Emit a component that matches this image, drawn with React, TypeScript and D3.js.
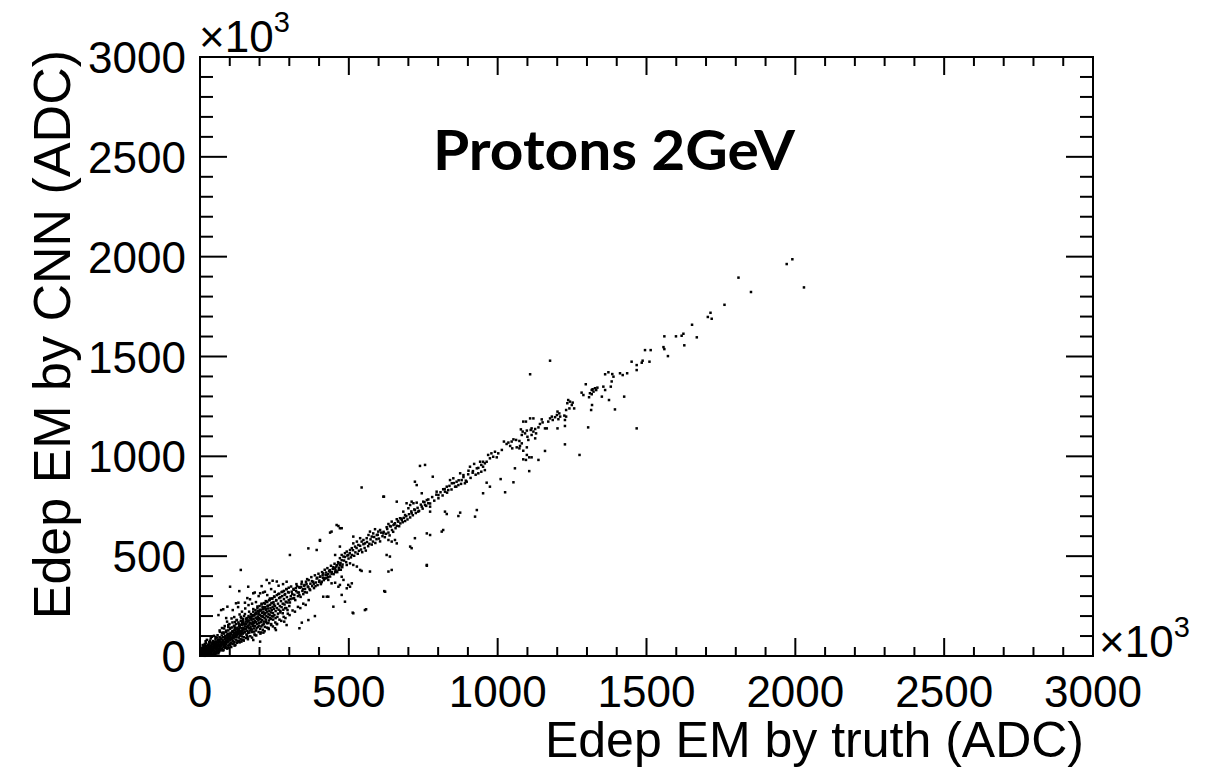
import React from 'react';
import * as d3 from 'd3';

// axis values (units of 10^3 ADC)
const xTickValues = [0, 500, 1000, 1500, 2000, 2500, 3000];
const yTickValues = [0, 500, 1000, 1500, 2000, 2500, 3000];
const title = 'Protons 2GeV';
const xTitle = 'Edep EM by truth (ADC)';
const yTitle = 'Edep EM by CNN (ADC)';

// [truth, CNN] pairs, units of 10^3 ADC
const coreA: [number, number][] = [
  [2, 4], [4, 11], [6, 2], [7, 19], [9, 7], [11, 14], [12, 27], [14, 5], [15, 36], [17, 21], [18, 9], [19, 48],
  [21, 30], [22, 16], [24, 3], [25, 41], [26, 24], [27, 57], [29, 12], [30, 33], [31, 69], [32, 45], [34, 19],
  [35, 28], [36, 52], [37, 8], [38, 39], [39, 63], [41, 22], [42, 47], [43, 31], [44, 75], [46, 14], [47, 55],
  [48, 37], [49, 26], [50, 61], [51, 43], [52, 84], [53, 18], [54, 50], [55, 33], [56, 68], [57, 40], [58, 92],
  [59, 25], [60, 57], [3, 22], [5, 31], [8, 42], [10, 3], [13, 50], [16, 1], [20, 66], [23, 8], [28, 2], [33, 5],
  [40, 4], [45, 9], [1, 14], [4, 38], [6, 27], [9, 55], [12, 46], [16, 60], [19, 74], [23, 81], [26, 12], [29, 40],
  [33, 77], [36, 88], [40, 96], [44, 58], [47, 101], [51, 6], [55, 12], [58, 21], [62, 13],
  [3, 9], [5, 17], [7, 33], [10, 22], [11, 39], [13, 11], [14, 29], [17, 44], [18, 35], [20, 4], [21, 52], [22, 40],
  [24, 27], [25, 15], [27, 33], [28, 49], [30, 21], [31, 10], [32, 60], [34, 38], [35, 71], [37, 48], [38, 16],
  [39, 29], [41, 58], [42, 35], [43, 66], [45, 45], [46, 27], [48, 71], [49, 52], [50, 17], [52, 39], [53, 62],
  [54, 73], [56, 29], [57, 52], [59, 44], [60, 79],
];

const coreB: [number, number][] = [
  [61, 48], [62, 66], [63, 35], [64, 82], [65, 55], [66, 94], [67, 42], [68, 71], [69, 28], [70, 60], [71, 88],
  [72, 50], [73, 103], [74, 67], [75, 38], [76, 79], [77, 57], [78, 95], [79, 45], [80, 70], [81, 112], [82, 62],
  [83, 86], [84, 50], [85, 99], [86, 74], [87, 121], [88, 58], [89, 90], [90, 68], [91, 106], [92, 80], [93, 52],
  [94, 95], [95, 128], [96, 72], [97, 109], [98, 86], [99, 61], [100, 100], [101, 136], [102, 78], [103, 116],
  [104, 92], [105, 66], [106, 108], [107, 85], [108, 143], [109, 98], [110, 75], [111, 122], [112, 104], [113, 88],
  [114, 151], [115, 115], [116, 70], [117, 96], [118, 130], [119, 108], [120, 82], [121, 160], [122, 119],
  [123, 95], [124, 138], [125, 106], [126, 77], [127, 126], [128, 112], [129, 168], [130, 92], [131, 134],
  [132, 116], [133, 101], [134, 146], [135, 124], [136, 84], [137, 176], [138, 110], [139, 139], [140, 121],
  [141, 98], [142, 156], [143, 130], [144, 112], [145, 185], [146, 138], [147, 94], [148, 118], [149, 162],
  [150, 133], [63, 58], [66, 77], [69, 50], [72, 84], [75, 62], [78, 74], [81, 55], [84, 91], [87, 66], [90, 88],
  [93, 73], [96, 99], [99, 83], [102, 112], [105, 90], [108, 120], [111, 96], [114, 128], [117, 103], [120, 135],
  [123, 110], [126, 142], [129, 118], [132, 150], [135, 103], [138, 157], [141, 126], [144, 166], [147, 134],
  [64, 22], [71, 36], [79, 30], [86, 44], [94, 40], [101, 55], [109, 60], [116, 52], [124, 66], [131, 75],
  [139, 72], [146, 80], [66, 128], [74, 140], [83, 150], [91, 172], [99, 160], [106, 188], [115, 195], [124, 180],
  [133, 208], [141, 222], [148, 200], [88, 190], [110, 230], [128, 245], [79, 118], [95, 145], [117, 170],
  [139, 190],
];

const coreC: [number, number][] = [
  [151, 120], [152, 148], [153, 172], [154, 135], [155, 160], [156, 108], [157, 190], [158, 144], [159, 126],
  [160, 168], [161, 152], [162, 116], [163, 200], [164, 140], [165, 178], [166, 157], [167, 128], [168, 192],
  [169, 165], [170, 146], [171, 210], [172, 134], [173, 182], [174, 160], [175, 120], [176, 198], [177, 170],
  [178, 150], [179, 222], [180, 185], [181, 138], [182, 164], [183, 206], [184, 176], [185, 150], [186, 230],
  [187, 192], [188, 128], [189, 170], [190, 212], [191, 185], [192, 160], [193, 240], [194, 198], [195, 145],
  [196, 178], [197, 220], [198, 190], [199, 166], [200, 250], [201, 205], [202, 136], [203, 186], [204, 228],
  [205, 170], [206, 200], [207, 258], [208, 215], [209, 180], [210, 155], [211, 236], [212, 196], [213, 222],
  [214, 172], [215, 265], [216, 208], [217, 190], [218, 146], [219, 245], [220, 215], [221, 182], [222, 230],
  [223, 200], [224, 272], [225, 164], [226, 222], [227, 250], [228, 194], [229, 238], [230, 210], [231, 178],
  [232, 280], [233, 226], [234, 205], [235, 256], [236, 190], [237, 240], [238, 218], [239, 160], [240, 264],
  [241, 230], [242, 200], [243, 288], [244, 246], [245, 215], [246, 182], [247, 270], [248, 236], [249, 258],
  [250, 205], [252, 250], [254, 225], [256, 278], [258, 240], [260, 196], [262, 262], [264, 232], [266, 290],
  [268, 250], [270, 218], [272, 275], [274, 245], [276, 300], [278, 262], [280, 232], [282, 285], [284, 258],
  [286, 310], [288, 272], [290, 240], [292, 295], [294, 268], [296, 320], [298, 280], [300, 250],
  [155, 185], [162, 176], [170, 190], [178, 205], [186, 210], [194, 226], [202, 232], [210, 245], [218, 262],
  [226, 270], [234, 280], [242, 288], [250, 296], [258, 305], [266, 312], [274, 320], [282, 326], [290, 335],
  [298, 342], [158, 102], [166, 118], [174, 132], [182, 122], [190, 140], [198, 152], [206, 148], [214, 160],
  [222, 170], [230, 165], [238, 185], [246, 198], [254, 190], [262, 212], [270, 226], [278, 214], [286, 240],
  [294, 230], [152, 238], [163, 255], [175, 262], [188, 270], [197, 300], [212, 318], [226, 305], [239, 335],
  [251, 322], [264, 352], [279, 360], [291, 372], [159, 290], [184, 318], [207, 350], [233, 365], [160, 95],
  [185, 105], [205, 118], [230, 140], [258, 160], [283, 172],
];

// wider spread of the core
const coreSpread: [number, number][] = [
  [52, 95], [56, 18], [59, 104], [63, 24], [67, 121], [70, 33], [74, 116], [77, 28], [81, 138], [85, 41],
  [88, 127], [91, 37], [95, 155], [98, 52], [102, 141], [105, 45], [109, 168], [113, 63], [116, 150], [119, 55],
  [123, 180], [127, 72], [130, 161], [133, 68], [137, 196], [141, 82], [144, 175], [147, 77], [151, 210],
  [155, 90], [158, 188], [161, 84], [165, 222], [169, 99], [172, 198], [175, 92], [179, 235], [183, 108],
  [186, 212], [189, 103], [193, 248], [197, 120], [200, 226], [203, 112], [207, 262], [211, 131], [214, 238],
  [217, 124], [221, 275], [225, 142], [228, 252], [231, 135], [235, 288], [239, 155], [242, 266], [245, 148],
  [249, 298], [253, 168], [256, 280], [259, 160], [263, 310], [267, 182], [270, 294], [273, 176], [277, 322],
  [281, 196], [284, 306], [287, 190], [291, 335], [295, 212], [298, 318], [301, 205], [306, 348], [311, 228],
  [315, 332], [319, 222], [324, 360], [329, 246], [333, 345], [337, 240], [342, 372], [347, 262], [351, 356],
  [355, 256], [360, 385], [365, 280],
  [22, 25], [26, 35], [31, 24], [35, 49], [39, 27], [44, 64], [48, 46], [53, 59], [57, 42], [62, 73], [66, 51],
  [70, 86], [74, 68], [77, 71], [82, 67], [86, 97], [89, 76], [93, 112], [97, 91], [101, 107], [105, 88],
  [109, 124], [113, 97], [117, 140], [121, 118], [125, 133], [129, 112], [133, 150], [137, 122], [141, 165],
  [145, 142], [149, 158], [153, 136], [157, 176], [161, 149], [165, 194], [169, 166], [173, 184], [177, 160],
  [181, 203], [185, 170], [189, 218], [193, 188], [197, 211], [201, 184], [205, 229], [209, 199], [213, 244],
  [217, 212], [221, 236],
];

const coreD: [number, number][] = [
  [302, 268], [305, 300], [308, 322], [311, 288], [314, 336], [317, 306], [320, 280], [323, 325], [326, 350],
  [329, 300], [332, 318], [335, 342], [338, 296], [341, 360], [344, 326], [347, 310], [350, 352], [353, 336],
  [356, 372], [359, 318], [362, 348], [365, 380], [368, 335], [371, 362], [374, 395], [377, 350], [380, 372],
  [383, 340], [386, 404], [389, 368], [392, 388], [395, 355], [398, 412], [401, 378], [404, 398], [407, 366],
  [410, 420], [413, 392], [416, 380], [419, 432], [422, 405], [425, 390], [428, 440], [431, 410], [434, 425],
  [437, 398], [440, 452], [443, 420], [446, 436], [449, 410], [452, 462], [455, 430], [458, 448], [461, 420],
  [464, 470], [467, 442], [470, 455], [473, 432], [476, 480], [479, 458], [304, 285], [310, 310], [316, 290],
  [322, 340], [328, 318], [334, 305], [340, 345], [346, 335], [352, 320], [358, 360], [364, 345], [370, 330],
  [376, 375], [382, 362], [388, 350], [394, 392], [400, 372], [406, 360], [412, 405], [418, 388], [424, 418],
  [430, 395], [436, 430], [442, 412], [448, 445], [454, 420], [460, 455], [466, 432], [472, 465], [478, 445],
];

const bandE: [number, number][] = [
  [484, 478], [487, 496], [491, 470], [495, 503], [499, 488], [503, 515], [507, 494], [510, 506], [514, 530],
  [518, 502], [522, 519], [526, 541], [530, 512], [534, 527], [538, 552], [541, 533], [545, 520], [549, 560],
  [553, 541], [557, 528], [561, 571], [565, 550], [569, 562], [573, 584], [577, 558], [581, 573], [585, 596],
  [589, 566], [593, 585], [597, 607], [601, 588], [605, 574], [609, 618], [613, 600], [617, 622], [621, 595],
  [625, 612], [629, 636], [633, 618], [637, 604], [641, 649], [645, 631], [649, 622], [653, 660], [657, 640],
  [661, 652], [665, 676], [669, 650], [673, 664], [677, 688], [681, 670], [685, 692], [689, 676], [693, 700],
  [697, 684], [702, 710], [706, 694], [710, 724], [715, 705], [720, 734], [725, 716], [731, 742], [736, 727],
  [742, 758], [748, 738], [754, 770], [760, 752], [767, 784], [773, 764], [780, 796], [787, 778], [794, 808],
  [801, 790], [808, 820], [815, 804], [822, 836], [830, 818], [838, 852], [845, 834], [853, 866], [861, 848],
  [869, 880], [877, 862], [885, 896], [893, 878], [901, 910], [909, 892], [917, 926], [926, 908], [935, 942],
];

const midPoints: [number, number][] = [
  [921, 962], [907, 948], [930, 940], [902, 928], [916, 918], [935, 915], [739, 952], [756, 957],
  [874, 915], [885, 906], [851, 890], [862, 873], [846, 865], [868, 856], [857, 848], [879, 881],
  [896, 873], [890, 865], [840, 881], [829, 848], [834, 831], [823, 823], [817, 835], [782, 898],
  [722, 873], [728, 856], [795, 823], [801, 806], [762, 781], [767, 765], [756, 756], [773, 748],
  [750, 773], [745, 748], [745, 815], [543, 844], [616, 798], [661, 773], [694, 765], [706, 756],
  [717, 765], [711, 773], [728, 768], [700, 740], [722, 731], [733, 723], [711, 715], [683, 723],
  [689, 706], [672, 690], [678, 681], [666, 673], [661, 685], [655, 665], [644, 673], [650, 656],
  [638, 651], [627, 645], [633, 661], [773, 723], [829, 711], [823, 723], [874, 718], [868, 701],
  [930, 731], [924, 698], [817, 631], [812, 623], [762, 614], [773, 606], [722, 590], [706, 548],
  [711, 540], [605, 631], [599, 623], [588, 635], [616, 614], [594, 606], [582, 614], [571, 623],
  [577, 598], [560, 590], [566, 606], [549, 581], [554, 564], [543, 573], [538, 590], [527, 573],
  [532, 556], [521, 548], [515, 564], [510, 540], [504, 531], [493, 523], [498, 506], [487, 515],
  [482, 498], [476, 506], [470, 490], [633, 581], [644, 573], [655, 581], [661, 564], [627, 506],
  [638, 498], [762, 456], [644, 431], [633, 423], [622, 322], [543, 426], [571, 423], [454, 506],
  [470, 548], [454, 439], [459, 423], [437, 423], [426, 406], [414, 414], [403, 397], [420, 389],
  [431, 381], [409, 372], [442, 364], [454, 367], [470, 356], [465, 347], [482, 381], [476, 397],
  [498, 356], [504, 347], [493, 339], [510, 364], [538, 431], [527, 448], [515, 456], [504, 464],
  [493, 456], [476, 448], [465, 464], [414, 297], [431, 297], [476, 306], [403, 581], [442, 623],
  [470, 640], [459, 656], [515, 598],
];

const upperPoints: [number, number][] = [
  [1176, 1479], [1109, 1411], [1450, 1474], [1467, 1457], [1467, 1432], [1372, 1421], [1361, 1411],
  [1385, 1412], [1389, 1399], [1411, 1416], [1420, 1407], [1435, 1416], [1383, 1375], [1380, 1349],
  [1296, 1361], [1319, 1336], [1327, 1341], [1335, 1344], [1331, 1332], [1322, 1324], [1310, 1316],
  [1316, 1332], [1355, 1349], [1361, 1332], [1282, 1319], [1288, 1307], [1307, 1296], [1316, 1311],
  [1350, 1299], [1374, 1282], [1425, 1299], [1237, 1282], [1243, 1274], [1252, 1269], [1234, 1266],
  [1249, 1257], [1257, 1240], [1241, 1240], [1230, 1232], [1317, 1257], [1314, 1232], [1394, 1235],
  [1201, 1224], [1207, 1215], [1199, 1207], [1210, 1199], [1193, 1196], [1204, 1186], [1182, 1199],
  [1176, 1190], [1185, 1182], [1170, 1174], [1148, 1185], [1151, 1170], [1142, 1162], [1137, 1145],
  [1126, 1137], [1114, 1140], [1095, 1174], [1086, 1174], [1109, 1190], [1120, 1190], [1226, 1182],
  [1230, 1199], [1224, 1204], [1159, 1140], [1165, 1140], [1201, 1140], [1226, 1152], [1304, 1145],
  [1467, 1140], [1078, 1135], [1084, 1124], [1098, 1129], [1092, 1115], [1081, 1107], [1100, 1098],
  [1111, 1132], [1120, 1124], [1129, 1115], [1114, 1107], [1103, 1082], [1126, 1090], [1053, 1085],
  [1062, 1082], [1073, 1077], [1047, 1074], [1036, 1069], [1021, 1074], [1030, 1062], [1042, 1052],
  [1049, 1040], [1064, 1045], [1075, 1052], [1081, 1065], [1073, 1040], [1098, 1045], [1086, 1028],
  [1098, 1007], [1106, 995], [1114, 995], [1095, 982], [1086, 985], [1137, 982], [1226, 1060],
  [1159, 1027], [1275, 1007], [1014, 1032], [1002, 1015], [991, 1023], [979, 1015], [968, 1007],
  [985, 998], [974, 990], [997, 995], [963, 973], [957, 965], [951, 973], [945, 957], [941, 973],
  [951, 948], [957, 931], [945, 923], [1058, 940], [1106, 926], [1010, 886], [974, 848], [963, 868],
  [1053, 870], [1025, 820], [951, 815],
];

const tailPoints: [number, number][] = [
  [1971, 1963], [1990, 1987], [2029, 1846], [1809, 1895], [1851, 1823], [1762, 1759], [1715, 1719],
  [1706, 1698], [1719, 1689], [1653, 1659], [1560, 1601], [1599, 1601], [1618, 1604], [1624, 1614],
  [1669, 1596], [1557, 1547], [1560, 1537], [1627, 1556], [1495, 1532], [1514, 1532], [1572, 1502],
  [1487, 1479], [1510, 1474], [1484, 1469],
];

const outlierPoints: [number, number][] = [
  [137, 431], [101, 347], [132, 325], [162, 347], [224, 381], [244, 377], [258, 373], [179, 314],
  [202, 314], [218, 322], [71, 230], [78, 234], [92, 247], [62, 205], [121, 264], [129, 267],
  [168, 284], [151, 267], [302, 506], [364, 539], [392, 531], [403, 577], [465, 651], [476, 640],
  [437, 618], [618, 798], [515, 214], [554, 230], [619, 325], [762, 452], [487, 272], [448, 247],
  [426, 297], [386, 200], [364, 180], [342, 167], [291, 155], [252, 139], [213, 117], [202, 72],
  [179, 80], [558, 234], [513, 217], [334, 139], [255, 130],
];

const W = 1212;
const H = 772;
const FONT = '"Liberation Sans", Arial, Helvetica, sans-serif';

export default function App() {
  const left = 200, right = 1093, top = 57, bottom = 656;
  const x = d3.scaleLinear().domain([0, 3000]).range([left, right]);
  const y = d3.scaleLinear().domain([0, 3000]).range([bottom, top]);
  const minor = d3.range(0, 3001, 100);

  const points: [number, number][] = [
    ...coreA, ...coreB, ...coreC, ...coreSpread, ...coreD, ...bandE,
    ...midPoints, ...upperPoints, ...tailPoints, ...outlierPoints,
  ];

  const ds = 2.5;
  return (
    <svg width={W} height={H} style={{ position: 'absolute', left: 0, top: 0, background: '#fff' }}>
      <rect x={0} y={0} width={W} height={H} fill="#fff" />
      <g fill="#000">
        {points.map(([a, b], i) => (
          <rect key={i} x={x(a) - ds / 2} y={y(b) - ds / 2} width={ds} height={ds} />
        ))}
      </g>
      <rect x={left} y={top} width={right - left} height={bottom - top} fill="none" stroke="#000" strokeWidth={2} />
      <g stroke="#000" strokeWidth={2}>
        {minor.map((v) => {
          const major = v % 500 === 0;
          const lx = major ? 18 : 9;
          const ly = major ? 27 : 13;
          return (
            <g key={v}>
              <line x1={x(v)} x2={x(v)} y1={bottom} y2={bottom - lx} />
              <line x1={x(v)} x2={x(v)} y1={top} y2={top + lx} />
              <line x1={left} x2={left + ly} y1={y(v)} y2={y(v)} />
              <line x1={right} x2={right - ly} y1={y(v)} y2={y(v)} />
            </g>
          );
        })}
      </g>
      <g fontFamily={FONT} fontSize={44} fill="#000">
        {xTickValues.map((v) => (
          <text key={'x' + v} x={x(v)} y={707} textAnchor="middle">{v}</text>
        ))}
        {yTickValues.map((v) => (
          <text key={'y' + v} x={186} y={y(v) + 16} textAnchor="end">{v}</text>
        ))}
      </g>
      <text x={199} y={52} fontFamily={FONT} fontSize={44} fill="#000">
        ×10<tspan fontSize={29} dy={-20}>3</tspan>
      </text>
      <text x={1099} y={657} fontFamily={FONT} fontSize={44} fill="#000">
        ×10<tspan fontSize={29} dy={-20}>3</tspan>
      </text>
      <text x={1084} y={757} textAnchor="end" fontFamily={FONT} fontSize={50} fill="#000">{xTitle}</text>
      <text transform={`translate(70,50) rotate(-90)`} textAnchor="end" fontFamily={FONT} fontSize={52} fill="#000">{yTitle}</text>
      <text x={433} y={170} fontFamily='Lato, "Open Sans", sans-serif' fontWeight={700} fontSize={55}
        textLength={362} lengthAdjust="spacingAndGlyphs" fill="#000">{title}</text>
    </svg>
  );
}
